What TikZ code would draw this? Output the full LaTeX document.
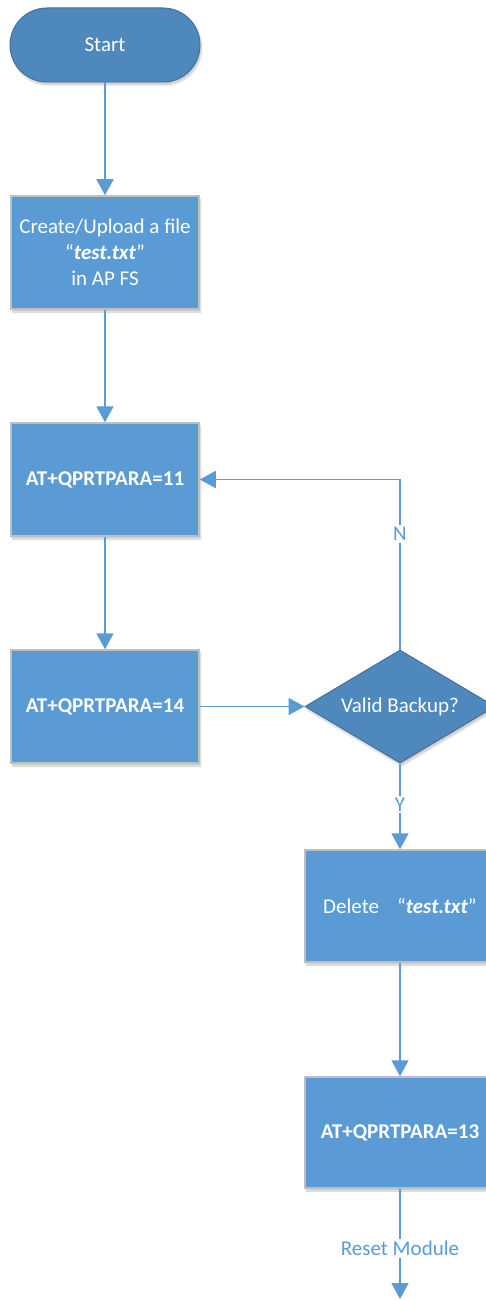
\documentclass[tikz,border=0pt]{standalone}
\usepackage{fontspec}
\setmainfont{Carlito}
\usetikzlibrary{shapes.geometric,arrows.meta,shadows.blur}

\definecolor{boxfill}{RGB}{91,155,213}
\definecolor{darkfill}{RGB}{79,136,189}
\definecolor{darkedge}{RGB}{65,113,156}
\definecolor{boxedge}{RGB}{191,191,191}
\definecolor{flowc}{RGB}{91,155,213}

\begin{document}
\begin{tikzpicture}[x=1pt,y=-1pt,
  font=\fontsize{21}{27}\selectfont,
  soft/.style={blur shadow={shadow xshift=1.5pt,shadow yshift=-3pt,
      shadow opacity=22,shadow blur steps=6}},
  terminal/.style={rectangle,rounded corners=37pt,minimum width=190pt,
      minimum height=74pt,fill=darkfill,draw=darkedge,line width=1pt,
      text=white,inner sep=0pt,soft},
  process/.style={rectangle,minimum width=188pt,minimum height=113pt,
      fill=boxfill,draw=boxedge,line width=1.5pt,text=white,align=center,
      inner sep=0pt,soft},
  decision/.style={diamond,minimum width=190pt,minimum height=113pt,
      inner sep=0pt,fill=darkfill,draw=darkedge,line width=1pt,
      text=white,soft},
  flow/.style={draw=flowc,line width=1.8pt,
      -{Triangle[length=16pt,width=17pt]}},
  lbl/.style={fill=white,text=flowc,inner sep=2pt}
]
\useasboundingbox (0,0) rectangle (485,1300);

% left column
\node[terminal] (start) at (105,45) {Start};
\node[process] (upload) at (105,252.5)
  {Create/Upload a file\\[-1pt]“\textbf{\textit{test.txt}}”\\[-1pt]in AP FS};
\node[process] (p11) at (105,479.5) {\textbf{AT+QPRTPARA=11}};
\node[process] (p14) at (105,706.5) {\textbf{AT+QPRTPARA=14}};

% right column
\node[decision] (valid) at (400,706.5) {\makebox[0pt]{Valid Backup?}};
\node[process,minimum width=190pt,minimum height=112pt] (del) at (400,906)
  {Delete\hspace{18pt}“\textbf{\textit{test.txt}}”};
\node[process,minimum width=190pt,minimum height=111pt] (p13) at (400,1132.5)
  {\textbf{AT+QPRTPARA=13}};
\coordinate (out) at (400,1299);

% connectors
\draw[flow] (start) -- (upload);
\draw[flow] (upload) -- (p11);
\draw[flow] (p11) -- (p14);
\draw[flow] (p14) -- (valid);
\draw[flow] (valid.north) |- (p11.east)
  node[lbl,pos=0.34] {N};
\draw[flow] (valid.south) -- (del.north)
  node[lbl,pos=0.48] {Y};
\draw[flow] (del) -- (p13);
\draw[flow] (p13.south) -- (out)
  node[lbl,pos=0.54] {Reset Module};
\end{tikzpicture}
\end{document}
